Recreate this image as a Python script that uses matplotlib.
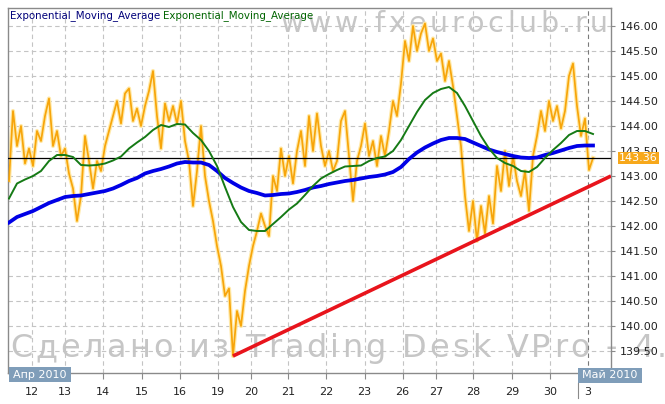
import numpy as np
import matplotlib
matplotlib.use("Agg")
import matplotlib.pyplot as plt
from matplotlib.patches import Rectangle
from matplotlib.lines import Line2D
from matplotlib.transforms import blended_transform_factory

# ---------------- data ----------------
# price series (one value per bar)
price = [
    142.90, 144.30, 143.60, 144.00, 143.25, 143.55, 143.20, 143.90, 143.70, 144.20,
    144.55, 143.60, 143.90, 143.40, 143.55, 143.05, 142.75, 142.10, 142.60, 143.80,
    143.30, 142.75, 143.30, 143.10, 143.60, 143.90, 144.20, 144.50, 144.05, 144.65,
    144.75, 144.10, 144.35, 144.00, 144.40, 144.70, 145.10, 144.20, 143.55, 144.45,
    144.10, 144.40, 144.05, 144.50, 143.70, 143.30, 142.40, 143.10, 144.00, 143.00,
    142.50, 142.10, 141.60, 141.20, 140.60, 140.75, 139.40, 140.30, 140.00, 140.70,
    141.20, 141.60, 141.90, 142.25, 142.00, 141.80, 143.00, 142.70, 143.55, 143.00,
    143.40, 142.85, 143.50, 143.90, 143.20, 144.20, 143.50, 144.25, 143.60, 143.20,
    143.50, 143.10, 143.30, 144.10, 144.30, 143.40, 142.50, 143.30, 143.60, 144.05,
    143.40, 143.70, 143.20, 143.80, 143.40, 143.90, 144.50, 144.20, 144.85, 145.70,
    145.30, 146.00, 145.50, 145.85, 146.05, 145.50, 145.75, 145.30, 145.45, 144.90,
    145.30, 144.80, 144.20, 143.60, 142.60, 141.90, 142.50, 141.70, 142.40, 141.85,
    142.60, 142.05, 143.20, 142.70, 143.50, 142.80, 143.40, 142.90, 142.60, 143.10,
    142.30, 143.40, 143.80, 144.30, 143.90, 144.50, 144.10, 144.40, 143.95, 144.30,
    145.00, 145.25, 144.40, 143.80, 144.15, 143.12, 143.36,
]

# EMA values, one every second bar
ema_green = [
    142.55, 142.85, 142.93, 143.00, 143.10, 143.30, 143.42, 143.42, 143.38, 143.22,
    143.21, 143.22, 143.25, 143.31, 143.39, 143.55, 143.67, 143.78, 143.92, 144.02,
    143.98, 144.04, 144.03, 143.86, 143.72, 143.50, 143.20, 142.78, 142.38, 142.08,
    141.92, 141.90, 141.90, 142.04, 142.18, 142.33, 142.45, 142.62, 142.80, 142.95,
    143.04, 143.12, 143.19, 143.20, 143.21, 143.30, 143.36, 143.39, 143.50, 143.72,
    144.00, 144.28, 144.52, 144.66, 144.74, 144.78, 144.66, 144.40, 144.10, 143.80,
    143.55, 143.36, 143.26, 143.20, 143.10, 143.08, 143.18, 143.36, 143.52, 143.66,
    143.82, 143.90, 143.90, 143.84,
]
ema_blue = [
    142.07, 142.18, 142.24, 142.30, 142.38, 142.46, 142.52, 142.58, 142.60, 142.61,
    142.64, 142.67, 142.70, 142.75, 142.82, 142.90, 142.96, 143.05, 143.10, 143.14,
    143.19, 143.25, 143.28, 143.27, 143.27, 143.22, 143.10, 142.96, 142.86, 142.77,
    142.70, 142.66, 142.61, 142.62, 142.64, 142.65, 142.68, 142.72, 142.77, 142.80,
    142.84, 142.87, 142.90, 142.92, 142.95, 142.98, 143.00, 143.03, 143.08, 143.18,
    143.34, 143.47, 143.57, 143.65, 143.72, 143.76, 143.76, 143.74, 143.67, 143.60,
    143.53, 143.48, 143.44, 143.40, 143.37, 143.36, 143.37, 143.42, 143.46, 143.51,
    143.56, 143.60, 143.61, 143.61,
]

# trend line (bar index, price)
trend_x = [56.0, 150.5]
trend_y = [139.40, 143.00]

last_price = 143.36

day_labels = ["12", "13", "14", "15", "16", "19", "20", "21", "22", "23",
              "26", "27", "28", "29", "30", "3"]
day_pos = [5.75, 14.0, 23.5, 33.25, 42.75, 52.25, 60.5, 69.75, 79.25, 88.9,
           98.4, 106.75, 116.1, 125.7, 135.25, 144.7]
month_labels = ["Апр 2010", "Май 2010"]
y_ticks = [139.5, 140.0, 140.5, 141.0, 141.5, 142.0, 142.5, 143.0,
           143.5, 144.0, 144.5, 145.0, 145.5, 146.0]
legend_names = ["Exponential_Moving_Average", "Exponential_Moving_Average"]

# ---------------- figure ----------------
W, H = 665, 404
fig = plt.figure(figsize=(W / 100, H / 100), dpi=100, facecolor="white")
ax = fig.add_axes([8 / W, 1 - 373 / H, 603 / W, 365 / H])
ax.patch.set_visible(False)

def fx(x):
    return x / W

def fy(y):
    return 1 - y / H

# watermarks with letter spacing (behind axes)
renderer = fig.canvas.get_renderer()

def text_w(s, size):
    t = fig.text(0, 0, s, fontsize=size, family="DejaVu Sans")
    w = t.get_window_extent(renderer).width
    t.remove()
    return w

def tracked(s, x0, x1, baseline, size, color):
    sp = text_w("n n", size) - text_w("nn", size)
    ws = [sp if ch == " " else text_w(ch, size) for ch in s]
    track = (x1 - x0 - sum(ws)) / (len(s) - 1)
    x = x0
    for ch, w in zip(s, ws):
        if ch != " ":
            fig.text(fx(x), fy(baseline), ch, fontsize=size, family="DejaVu Sans",
                     color=color, ha="left", va="baseline", zorder=-1)
        x += w + track

wm_color = "#c6c6c6"
tracked("www.fxeuroclub.ru", 281, 608, 32, 20.5, wm_color)
tracked("Сделано из Trading Desk VPro - 4.6", 10, 690, 357, 23, wm_color)

# grid
grid_c = "#c4c4c4"
for yv in y_ticks:
    ax.axhline(yv, color=grid_c, lw=0.8, ls=(0, (4, 3)), zorder=1)
for i, xv in enumerate(day_pos):
    c = "#7a7a7a" if i == len(day_pos) - 1 else grid_c
    ax.axvline(xv, color=c, lw=0.8, ls=(0, (4, 3)), zorder=1)

# series
bar_x = np.arange(len(price))
ema_x = np.arange(len(ema_green)) * 2
ax.plot(bar_x, price, color="#ffe9a8", lw=3.0, zorder=2)
ax.plot(bar_x, price, color="#f7a50a", lw=1.25, zorder=3)
ax.axhline(last_price, color="black", lw=0.9, zorder=4)
ax.plot(ema_x, ema_blue, color="#0000e6", lw=2.7, zorder=5)
ax.plot(ema_x, ema_green, color="#157a15", lw=1.4, zorder=6)
ax.plot(trend_x, trend_y, color="#e8141c", lw=2.6, zorder=7, solid_capstyle="butt")

ax.set_xlim(-0.25, 150.5)
ax.set_ylim(139.06, 146.36)

# axes styling
for s in ax.spines.values():
    s.set_color("#8a8a8a")
    s.set_linewidth(1.0)
ax.yaxis.tick_right()
ax.set_yticks(y_ticks)
ax.set_yticklabels([f"{v:.2f}" for v in y_ticks])
ax.tick_params(axis="y", which="both", length=3, width=0.8, color="#8a8a8a",
               labelsize=8, pad=3, labelcolor="#222222", left=False)
ax.set_xticks(day_pos)
ax.set_xticklabels(day_labels)
ax.tick_params(axis="x", length=4, width=0.8, color="#8a8a8a", labelsize=8,
               pad=6, labelcolor="#222222")

# last price label
tr = blended_transform_factory(ax.transAxes, ax.transData)
ax.text(1 + 8 / 603, last_price, f"{last_price:.2f}", transform=tr, ha="left",
        va="center", fontsize=8, color="white", clip_on=False, zorder=20,
        bbox=dict(boxstyle="square,pad=0.12", fc="#f7a81b", ec="none"))

# legend
fig.text(fx(10), fy(16), legend_names[0], color="#00007a", fontsize=7.4,
         ha="left", va="center")
fig.text(fx(163), fy(16), legend_names[1], color="#006400", fontsize=7.4,
         ha="left", va="center")

# month boxes
box_c = "#7f9db9"
fig.add_artist(Rectangle((fx(9), fy(382)), 62 / W, 15 / H, transform=fig.transFigure,
                         fc=box_c, ec="none", zorder=10))
fig.text(fx(40), fy(374.5), month_labels[0], color="white", fontsize=8,
         ha="center", va="center", zorder=11)
fig.add_artist(Rectangle((fx(578), fy(383)), 64 / W, 15 / H, transform=fig.transFigure,
                         fc=box_c, ec="none", zorder=10))
fig.text(fx(610), fy(375.5), month_labels[1], color="white", fontsize=8,
         ha="center", va="center", zorder=11)
fig.add_artist(Line2D([fx(578), fx(578)], [fy(383), fy(398)], transform=fig.transFigure,
                      color="#8a8a8a", lw=0.8, zorder=10))

fig.savefig("out.png", dpi=100, facecolor="white")
